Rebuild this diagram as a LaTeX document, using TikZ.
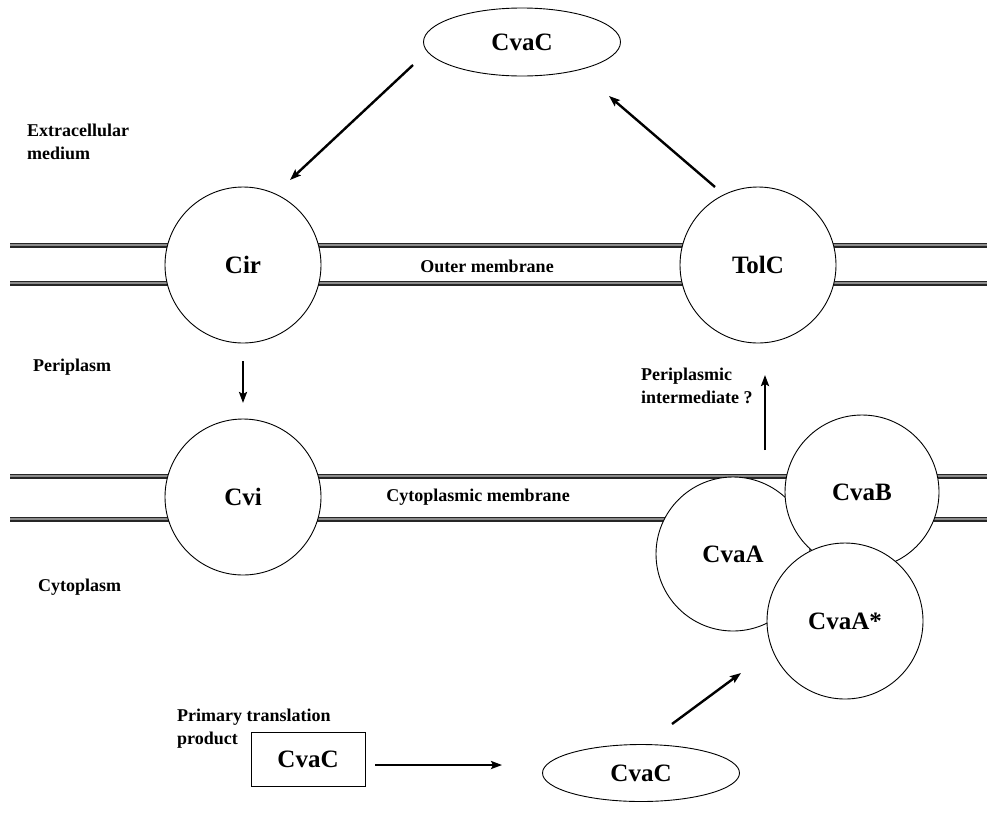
\documentclass[tikz,border=0pt]{standalone}
\usepackage{fontspec}
\setmainfont{Liberation Serif}
\usetikzlibrary{arrows.meta,shapes.geometric}
\begin{document}
\begin{tikzpicture}[x=1pt,y=-1pt,
  protein/.style={circle,draw,fill=white,line width=0.9pt,minimum size=156pt,inner sep=0pt,
    font=\fontsize{25}{28}\selectfont\bfseries},
  oval/.style={ellipse,draw,fill=white,line width=0.9pt,inner sep=0pt,
    font=\fontsize{25}{28}\selectfont\bfseries},
  tag/.style={font=\fontsize{18}{23}\selectfont\bfseries,inner sep=0pt},
  ltag/.style={tag,anchor=west,align=left},
  arr/.style={line width=2.4pt,-{Stealth[length=11pt,width=8pt,inset=2pt]}},
  membrane/.style={line width=5pt,black!85},
  membranecore/.style={line width=1.6pt,black!45}]
\useasboundingbox (0,0) rectangle (987,812);

% membranes
\foreach \yy in {245,283,476,519}{
  \draw[membrane] (10,\yy) -- (987,\yy);
  \draw[membranecore] (10,\yy) -- (987,\yy);
}

% compartment labels
\node[ltag] (extra) at (27,142) {Extracellular\\medium};
\node[ltag] (peri) at (33,367) {Periplasm};
\node[ltag] (cyto) at (38,587) {Cytoplasm};
\node[tag] (om) at (487,266) {Outer membrane};
\node[tag] (cm) at (478,497) {Cytoplasmic membrane};
\node[ltag] (inter) at (641,386) {Periplasmic\\intermediate ?};
\node[ltag] (prim) at (177,729) {Primary translation\\product};

% membrane proteins
\node[protein] (cir) at (243,265) {Cir};
\node[protein] (tolc) at (758,265) {TolC};
\node[protein] (cvi) at (243,497) {Cvi};
\node[protein,minimum size=154pt] (cvaa) at (733,554) {CvaA};
\node[protein,minimum size=154pt] (cvab) at (862,492) {CvaB};
\node[protein] (cvaas) at (845,621) {CvaA*};

% colicin V forms
\node[oval,minimum width=197pt,minimum height=68pt] (topc) at (522,42) {CvaC};
\node[oval,minimum width=197pt,minimum height=57pt] (botc) at (641,773) {CvaC};
\node[draw,line width=0.9pt,minimum width=114pt,minimum height=54pt,inner sep=0pt,
  font=\fontsize{25}{28}\selectfont\bfseries] (prod) at (308,759) {CvaC};

% transport steps
\draw[arr] ([shift={(-109,23)}]topc.center) -- ([shift={(47,-85)}]cir.center);
\draw[arr] ([shift={(0,96)}]cir.center) -- ([shift={(0,-94)}]cvi.center);
\draw[arr] ([shift={(-97,-42)}]cvab.center) -- ([shift={(7,110)}]tolc.center);
\draw[arr] ([shift={(-43,-78)}]tolc.center) -- ([shift={(87,54)}]topc.center);
\draw[arr] ([shift={(10,6)}]prod.east) -- ([shift={(-40,-8)}]botc.west);
\draw[arr] ([shift={(31,-49)}]botc.center) -- ([shift={(-104,52)}]cvaas.center);
\end{tikzpicture}
\end{document}
